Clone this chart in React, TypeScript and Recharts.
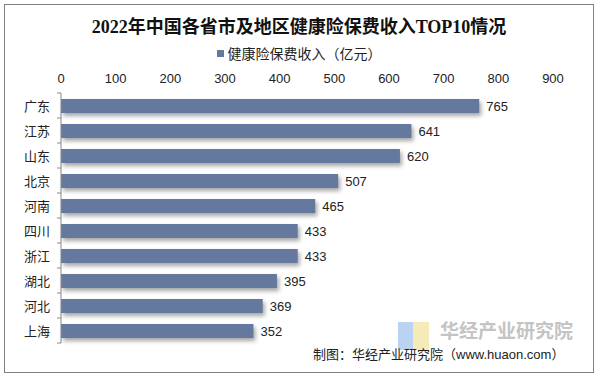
import { Bar, BarChart, LabelList, XAxis, YAxis } from 'recharts';

const provinces = ['广东', '江苏', '山东', '北京', '河南', '四川', '浙江', '湖北', '河北', '上海'];
const premiums = [765, 641, 620, 507, 465, 433, 433, 395, 369, 352];
const xTicks = [0, 100, 200, 300, 400, 500, 600, 700, 800, 900];

const seriesName = '健康险保费收入（亿元）';
const barColor = '#65799f';
const cjk = '"Liberation Sans", "Noto Sans CJK SC", sans-serif';

const data = provinces.map((name, i) => ({ name, value: premiums[i] }));

function CategoryTick(props: any) {
  const { x, y, payload, index } = props;
  const half = 12.5;
  const axisX = x + 8;
  return (
    <g>
      <line x1={axisX - 4} x2={axisX} y1={y - half} y2={y - half} stroke="#888" />
      {index === provinces.length - 1 && (
        <line x1={axisX - 4} x2={axisX} y1={y + half} y2={y + half} stroke="#888" />
      )}
      <text x={x - 3} y={y} dy={5} textAnchor="end" fontSize={13} fill="#222" fontFamily={cjk}>
        {payload.value}
      </text>
    </g>
  );
}

function ShadowBar(props: any) {
  const { x, y, width, height } = props;
  return (
    <rect
      x={x}
      y={y}
      width={width}
      height={height}
      fill={barColor}
      style={{ filter: 'drop-shadow(2px 3px 2px rgba(0,0,0,0.35))' }}
    />
  );
}

export default function App() {
  return (
    <div style={{ position: 'absolute', left: 0, top: 0, width: 598, height: 377, background: '#fff' }}>
      <div
        style={{
          position: 'absolute',
          left: 4,
          top: 4,
          width: 588,
          height: 367,
          border: '1px solid #808080',
        }}
      />
      <div
        style={{
          position: 'absolute',
          top: 12,
          left: 0,
          width: 598,
          textAlign: 'center',
          fontFamily: '"Liberation Serif", "Noto Sans CJK SC", serif',
          fontWeight: 'bold',
          fontSize: 18,
          color: '#111',
        }}
      >
        2022年中国各省市及地区健康险保费收入TOP10情况
      </div>
      <div
        style={{
          position: 'absolute',
          top: 43,
          left: 0,
          width: 598,
          display: 'flex',
          justifyContent: 'center',
          alignItems: 'center',
          fontFamily: cjk,
          fontSize: 14,
          color: '#222',
        }}
      >
        <span style={{ display: 'inline-block', width: 7, height: 7, background: barColor, marginRight: 4 }} />
        {seriesName}
      </div>

      <div style={{ position: 'absolute', left: 0, top: 0 }}>
        <BarChart
          width={598}
          height={377}
          data={data}
          layout="vertical"
          margin={{ top: 73, right: 45, bottom: 34, left: 0 }}
        >
          <XAxis
            type="number"
            orientation="top"
            domain={[0, 900]}
            ticks={xTicks}
            axisLine={false}
            tickLine={false}
            tickSize={0}
            tickMargin={10}
            height={20}
            tick={{ fontSize: 13, fill: '#222', fontFamily: cjk }}
            interval={0}
          />
          <YAxis
            type="category"
            dataKey="name"
            width={61}
            axisLine={{ stroke: '#888' }}
            tickLine={false}
            tick={<CategoryTick />}
            interval={0}
          />
          <Bar dataKey="value" barSize={14} isAnimationActive={false} shape={<ShadowBar />}>
            <LabelList
              dataKey="value"
              position="right"
              offset={7}
              fill="#222"
              fontSize={13}
              fontFamily={cjk}
            />
          </Bar>
        </BarChart>
      </div>

      <div
        style={{
          position: 'absolute',
          left: 398,
          top: 322,
          width: 15,
          height: 28,
          background: '#a9c8f0',
          opacity: 0.8,
        }}
      />
      <div
        style={{
          position: 'absolute',
          left: 413,
          top: 322,
          width: 16,
          height: 28,
          background: '#f3e6a8',
          opacity: 0.8,
        }}
      />
      <div
        style={{
          position: 'absolute',
          left: 440,
          top: 316,
          fontFamily: cjk,
          fontWeight: 'bold',
          fontSize: 19,
          color: '#c4c4c4',
        }}
      >
        华经产业研究院
      </div>
      <div
        style={{
          position: 'absolute',
          left: 313,
          top: 344,
          fontFamily: cjk,
          fontSize: 13,
          color: '#222',
          whiteSpace: 'nowrap',
        }}
      >
        制图：华经产业研究院（www.huaon.com）
      </div>
    </div>
  );
}
